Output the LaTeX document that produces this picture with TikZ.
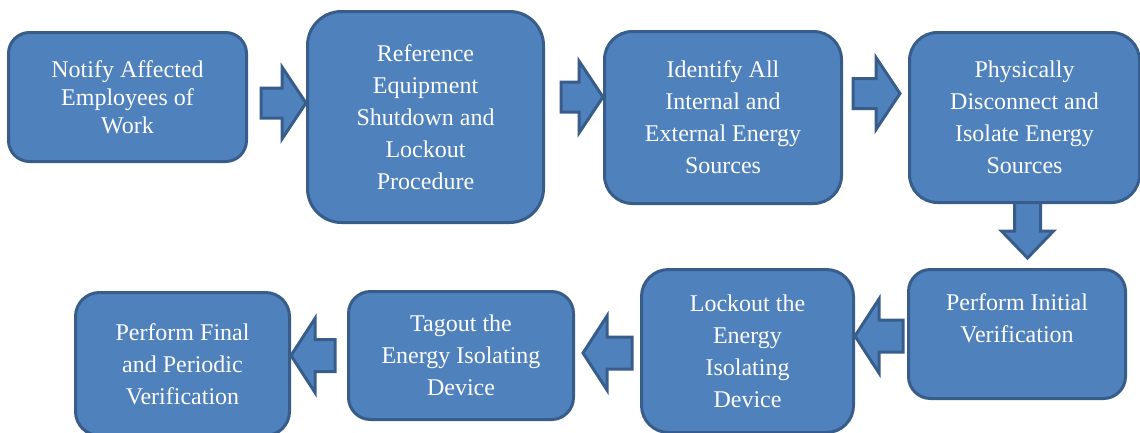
\documentclass[tikz,border=0pt]{standalone}
\usepackage{fontspec}
\setmainfont{Liberation Serif}
\usetikzlibrary{calc, backgrounds}
\definecolor{stepfill}{HTML}{4F81BD}
\definecolor{stepline}{HTML}{385D8A}

\begin{document}
\begin{tikzpicture}[
    x=1pt, y=-1pt,
    box/.style={draw=stepline, fill=stepfill, line width=3pt, rounded corners=#1, align=center,
        text=white, inner sep=0pt, font=\fontsize{24}{32}\selectfont},
    blockarr/.style={draw=stepline, fill=stepfill, line width=3pt},
    rblock/.style={blockarr, to path={let \p1=(\tikztostart), \p2=(\tikztotarget) in
        (\x1,\y1+15pt) -- (\x2-24pt,\y1+15pt) -- (\x2-24pt,\y1+36pt) -- (\x2,\y1)
        -- (\x2-24pt,\y1-36pt) -- (\x2-24pt,\y1-15pt) -- (\x1,\y1-15pt) -- cycle}},
    lblock/.style={blockarr, to path={let \p1=(\tikztostart), \p2=(\tikztotarget) in
        (\x1,\y1+16pt) -- (\x2+24pt,\y1+16pt) -- (\x2+24pt,\y1+37pt) -- (\x2,\y1)
        -- (\x2+24pt,\y1-37pt) -- (\x2+24pt,\y1-16pt) -- (\x1,\y1-16pt) -- cycle}},
    dblock/.style={blockarr, to path={let \p1=(\tikztostart), \p2=(\tikztotarget) in
        (\x1+13pt,\y1) -- (\x1+13pt,\y2+27pt) -- (\x1+26pt,\y2+27pt) -- (\x1,\y2)
        -- (\x1-26pt,\y2+27pt) -- (\x1-13pt,\y2+27pt) -- (\x1-13pt,\y1) -- cycle}}
]
\useasboundingbox (0,0) rectangle (1140,432);
\clip (0,0) rectangle (1140,432);

% Top row
\node[box=21pt, minimum width=238pt, minimum height=129pt, font=\fontsize{24}{28}\selectfont]
    (notify) at (127.5,97) {Notify Affected\\Employees of\\Work};
\node[box=34pt, minimum width=236pt, minimum height=211pt]
    (shutdown) at (425.5,117) {Reference\\Equipment\\Shutdown and\\Lockout\\Procedure};
\node[box=28pt, minimum width=237pt, minimum height=172pt]
    (identify) at (723,117.5) {Identify All\\Internal and\\External Energy\\Sources};
\node[box=28pt, minimum width=230pt, minimum height=170pt]
    (isolate) at (1024.5,117.5) {Physically\\Disconnect and\\Isolate Energy\\Sources};

% Bottom row
\node[box=22pt, minimum width=217pt, minimum height=129pt]
    (initial) at (1017,334) {Perform Initial\\Verification\\\mbox{}};
\node[box=27pt, minimum width=212pt, minimum height=163pt]
    (lockout) at (747.5,351) {Lockout the\\Energy\\Isolating\\Device};
\node[box=22pt, minimum width=225pt, minimum height=128pt]
    (tagout) at (461,355.5) {Tagout the\\Energy Isolating\\Device};
\node[box=24pt, minimum width=214pt, minimum height=143pt]
    (final) at (182.5,364) {Perform Final\\and Periodic\\Verification};

% Block arrows
\begin{scope}[on background layer]
\draw[rblock] ([xshift=13pt,yshift=-6pt]notify.east) to (shutdown.west);
\draw[rblock] ([xshift=16pt,yshift=20pt]shutdown.east) to (identify.west);
\draw[rblock] ([xshift=10pt,yshift=24pt]identify.east) to ([xshift=-8pt]isolate.west);
\draw[dblock] ([xshift=3pt,yshift=2pt]isolate.south) to ([yshift=10pt]initial.north);
\draw[lblock] ([xshift=-4pt,yshift=-2pt]initial.west) to (lockout.east);
\draw[lblock] ([xshift=-8pt,yshift=-2pt]lockout.west) to ([xshift=8pt]tagout.east);
\draw[lblock] ([xshift=-12pt]tagout.west) to (final.east);
\end{scope}

\end{tikzpicture}
\end{document}
